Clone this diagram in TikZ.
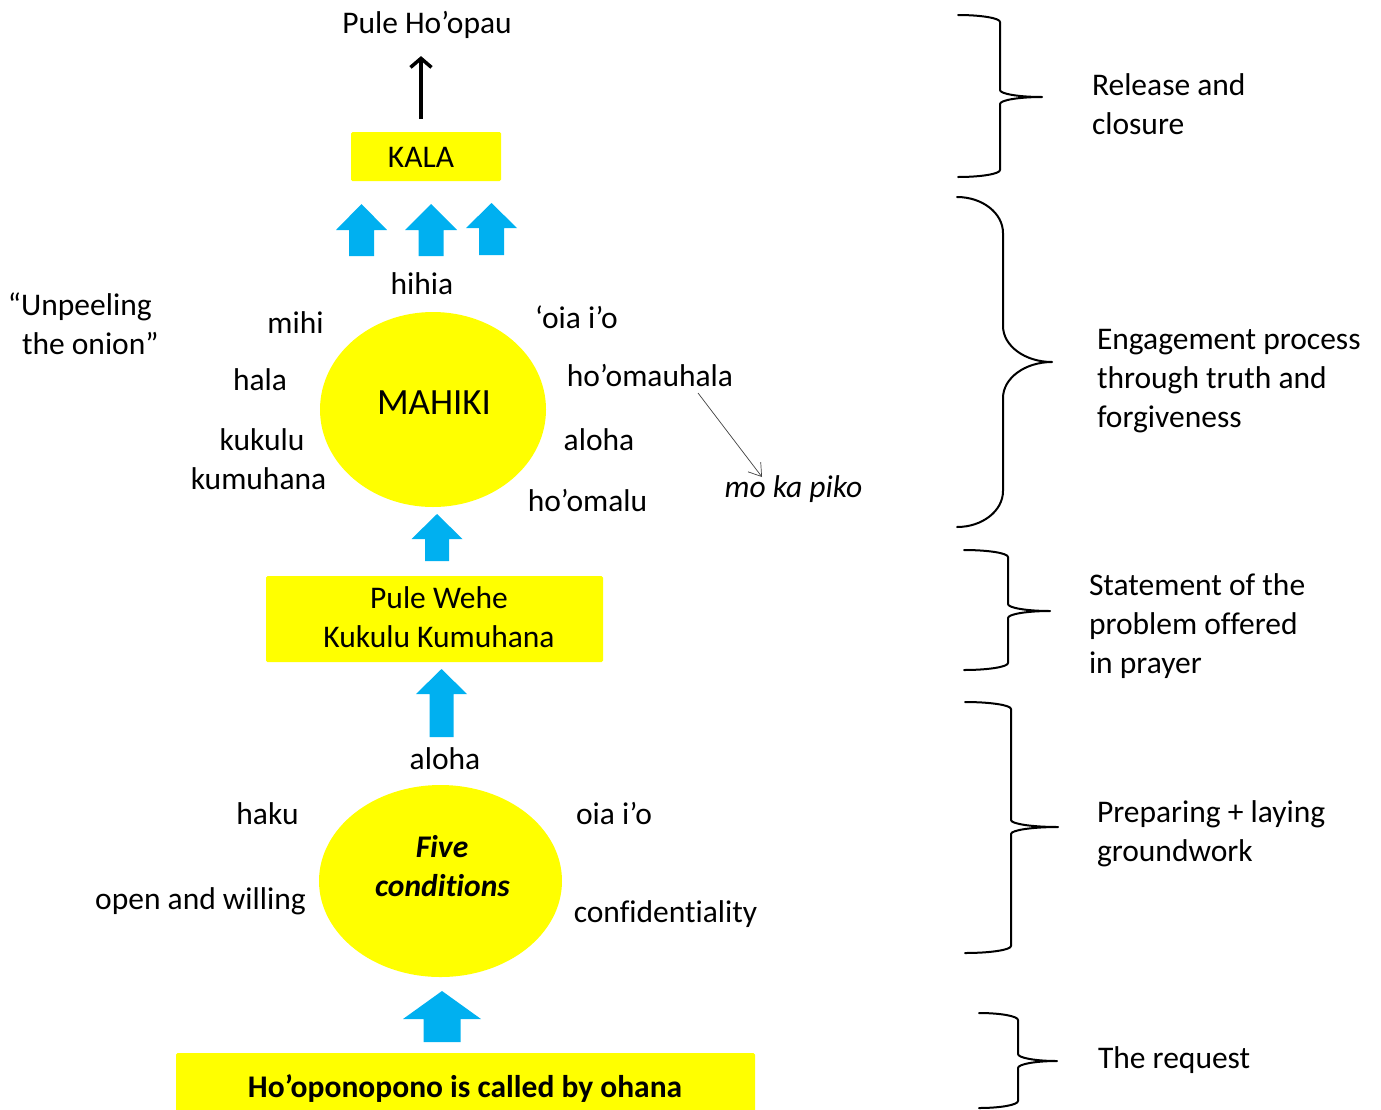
\documentclass[tikz,border=0pt]{standalone}
\usepackage{fontspec}
\setmainfont{Carlito}[Ligatures={TeX,NoCommon}]
\usetikzlibrary{arrows.meta,shapes.geometric}
\definecolor{ylw}{HTML}{FFFF00}
\definecolor{sky}{HTML}{00B0F0}
\definecolor{thin}{HTML}{404040}
% brace: x0 ytop ybot xspine xtip ytip r
\newcommand\mybrace[7]{\draw[bracestyle] (#1,#2) .. controls ({#1+0.552*(#4-#1)},#2) and (#4,{#2+0.448*#7}) .. (#4,{#2+#7}) -- (#4,{#6-#7}) .. controls (#4,{#6-0.448*#7}) and ({#4+0.448*(#5-#4)},#6) .. (#5,#6) .. controls ({#4+0.448*(#5-#4)},#6) and (#4,{#6+0.448*#7}) .. (#4,{#6+#7}) -- (#4,{#3-#7}) .. controls (#4,{#3-0.448*#7}) and ({#1+0.552*(#4-#1)},#3) .. (#1,#3);}
% block arrow up: cx ytop yheadbase ybottom halfhead halfshaft
\newcommand\blockup[6]{\fill[sky] ({#1-#6},#4) -- ({#1-#6},#3) -- ({#1-#5},#3) -- (#1,#2) -- ({#1+#5},#3) -- ({#1+#6},#3) -- ({#1+#6},#4) -- cycle;}
\begin{document}
\begin{tikzpicture}[x=1pt,y=-1pt,
  every node/.style={inner sep=0pt,outer sep=0pt,font=\fontsize{31.5}{39}\selectfont},
  lbl/.style={anchor=base},
  lblw/.style={anchor=base west,align=left},
  ybox/.style={fill=ylw,draw=none,rectangle,rounded corners=1.5pt},
  yell/.style={ellipse,fill=ylw,draw=none},
  bracestyle/.style={line width=2pt,line cap=round,line join=round},
  blk/.style={line width=3.5pt,-{Straight Barb[length=9pt,width=21pt,line width=3.5pt]}},
  thinarr/.style={thin,color=thin,line width=0.7pt,-{Straight Barb[length=12pt,width=16pt,line width=0.7pt]}}]
\useasboundingbox (0,0) rectangle (1381,1109);

% top
\node[lbl] (pho) at (427,33) {Pule Ho’opau};
\node[ybox,minimum width=150pt,minimum height=49pt] (kala) at (426,156.5) {};
\node[lbl] (kalat) at (421,167) {KALA};
\draw[blk,shorten <=13pt,shorten >=18pt] ([xshift=-5pt]kala.north) -- ([xshift=-5pt]kala.north |- pho.south);

% three blue arrows
\blockup{361.5}{204}{230}{256}{25.5}{12.5}
\blockup{431}{204}{230}{256}{26}{12.5}
\blockup{491.5}{203}{228}{255}{25.5}{12.5}

% MAHIKI
\node[yell,minimum width=226pt,minimum height=195pt] (mahiki) at (433,409.5) {};
\node[lbl,font=\fontsize{37}{44}\selectfont] (mahikit) at (434,414) {MAHIKI};
\node[lbl] (hihia) at (422,294) {hihia};
\node[lbl] (mihi) at (295.5,333) {mihi};
\node[lbl] (hala) at (260,390) {hala};
\node[lbl] (kukulu) at (262,450) {kukulu};
\node[lbl] (kumuhana) at (258.5,489) {kumuhana};
\node[lbl] (oiaio1) at (576.5,328) {‘oia i’o};
\node[lbl] (hoomau) at (650,386) {ho’omauhala};
\node[lbl] (aloha1) at (599,450) {aloha};
\node[lbl] (hoomalu) at (587.5,511) {ho’omalu};
\node[lbl,font=\fontsize{31.5}{39}\selectfont\itshape] (mkp) at (793.5,497) {mo ka piko};
\coordinate (gs) at (698,393);
\coordinate (ge) at (762,477);
\draw[thinarr] (gs) -- (ge);
\node[anchor=base west] (unp1) at (8,315) {“Unpeeling};
\node[anchor=base west] (unp2) at (22,354) {the onion”};

% arrow to Pule Wehe
\blockup{437}{514}{539}{561}{25.5}{12}

% Pule Wehe box
\node[ybox,minimum width=337pt,minimum height=86pt] (wehe) at (434.5,619) {};
\node[lbl] (wehe1) at (439,608) {Pule Wehe};
\node[lbl] (wehe2) at (439,647) {Kukulu Kumuhana};

\blockup{441.5}{669}{694}{737}{25.5}{12}

% five conditions
\node[lbl] (aloha2) at (445,769) {aloha};
\node[yell,minimum width=243pt,minimum height=192pt] (five) at (440.5,881) {};
\node[lbl,font=\fontsize{31.5}{39}\selectfont\bfseries\itshape] (five1) at (442,857) {Five};
\node[lbl,font=\fontsize{31.5}{39}\selectfont\bfseries\itshape] (five2) at (442.5,896) {conditions};
\node[lbl] (haku) at (267.5,824) {haku};
\node[lbl] (oiaio2) at (614,824) {oia i’o};
\node[lbl] (openw) at (200.5,909) {open and willing};
\node[lbl] (confid) at (665.5,922) {confidentiality};

\blockup{442}{991}{1019}{1042}{39}{18.5}

% bottom box
\node[ybox,minimum width=579pt,minimum height=62pt] (ohana) at (465.5,1084) {};
\node[lbl,font=\fontsize{31.5}{39}\selectfont\bfseries] (ohanat) at (465,1097) {Ho’oponopono is called by ohana};

% braces
\mybrace{958}{15}{177}{1000}{1042}{97}{7}
\mybrace{957}{197}{527}{1003}{1052}{362}{36}
\mybrace{964}{550}{670}{1008}{1050}{611}{7}
\mybrace{965}{702}{953}{1011}{1058}{827}{7}
\mybrace{979}{1013}{1108}{1018}{1057}{1061}{7}

% right texts (base = last line)
\node[lblw] (r1) at (1092,134) {Release and\\closure};
\node[lblw] (r2) at (1097,427) {Engagement process\\through truth and\\forgiveness};
\node[lblw] (r3) at (1089,673) {Statement of the\\problem offered\\in prayer};
\node[lblw] (r4) at (1097,861) {Preparing + laying\\groundwork};
\node[lblw] (r5) at (1098,1068) {The request};
\end{tikzpicture}
\end{document}
